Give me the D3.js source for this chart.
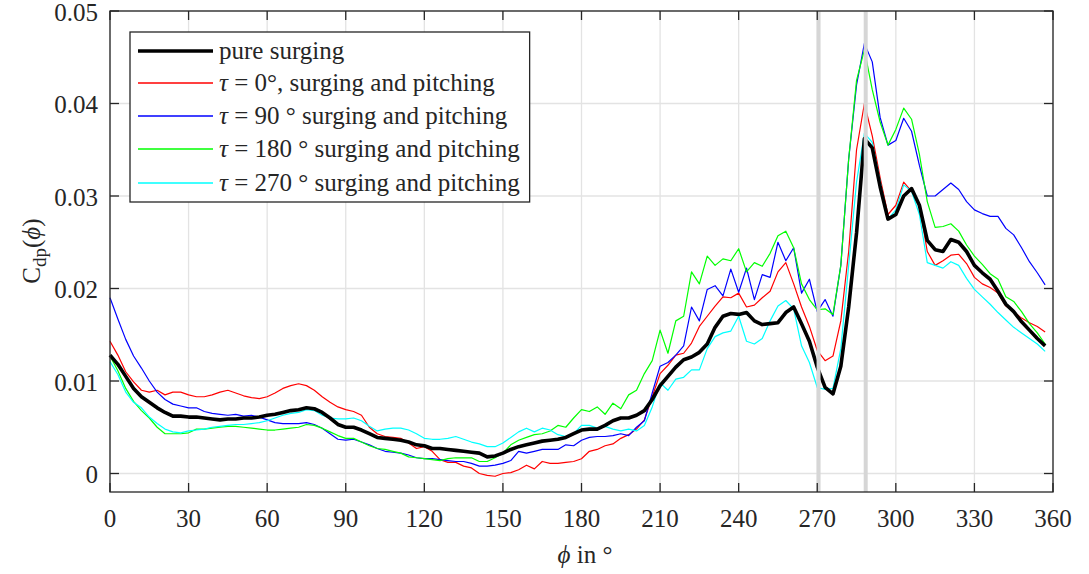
<!DOCTYPE html>
<html><head><meta charset="utf-8">
<script src="https://cdn.jsdelivr.net/npm/d3@7/dist/d3.min.js"></script>
</head><body style="margin:0;background:#fff"><svg id="c" width="1089" height="574" style="display:block"></svg>
<script>
const phi = [0,3,6,9,12,15,18,21,24,27,30,33,36,39,42,45,48,51,54,57,60,63,66,69,72,75,78,81,84,87,90,93,96,99,102,105,108,111,114,117,120,123,126,129,132,135,138,141,144,147,150,153,156,159,162,165,168,171,174,177,180,183,186,189,192,195,198,201,204,207,210,213,216,219,222,225,228,231,234,237,240,243,246,249,252,255,258,261,264,267,270,273,276,279,282,285,288,291,294,297,300,303,306,309,312,315,318,321,324,327,330,333,336,339,342,345,348,351,354,357];
const pureSurging = [0.0128,0.0118,0.0105,0.0092,0.0083,0.0077,0.0071,0.0066,0.0062,0.0062,
0.0061,0.0061,0.0060,0.0059,0.0058,0.0059,0.0059,0.0060,0.0060,0.0061,
0.0063,0.0064,0.0066,0.0068,0.0069,0.0071,0.0070,0.0066,0.0060,0.0053,
0.0050,0.0050,0.0047,0.0043,0.0039,0.0038,0.0037,0.0036,0.0034,0.0031,
0.0030,0.0027,0.0027,0.0026,0.0025,0.0024,0.0023,0.0022,0.0018,0.0019,
0.0022,0.0026,0.0029,0.0031,0.0033,0.0035,0.0036,0.0037,0.0039,0.0043,
0.0047,0.0048,0.0048,0.0052,0.0057,0.0060,0.0060,0.0063,0.0068,0.0080,
0.0095,0.0105,0.0115,0.0123,0.0126,0.0131,0.0140,0.0158,0.0170,0.0173,
0.0172,0.0174,0.0165,0.0161,0.0162,0.0163,0.0174,0.0180,0.0162,0.0143,
0.0115,0.0093,0.0086,0.0116,0.0180,0.0260,0.0362,0.0352,0.0310,0.0275,
0.0280,0.0300,0.0308,0.0290,0.0252,0.0242,0.0240,0.0253,0.0250,0.0240,
0.0225,0.0217,0.0210,0.0197,0.0183,0.0175,0.0164,0.0155,0.0146,0.0138];
const tau0 = [0.0143,0.0128,0.0110,0.0099,0.0090,0.0088,0.0090,0.0085,0.0088,0.0088,
0.0085,0.0083,0.0083,0.0085,0.0088,0.0090,0.0087,0.0084,0.0082,0.0081,
0.0083,0.0087,0.0092,0.0095,0.0097,0.0095,0.0090,0.0083,0.0077,0.0072,
0.0069,0.0067,0.0063,0.0050,0.0043,0.0040,0.0039,0.0038,0.0033,0.0027,
0.0029,0.0024,0.0015,0.0012,0.0012,0.0008,0.0006,0.0000,-0.0002,-0.0003,
0.0000,0.0001,0.0004,0.0009,0.0005,0.0013,0.0011,0.0011,0.0012,0.0013,
0.0016,0.0024,0.0026,0.0030,0.0032,0.0038,0.0042,0.0048,0.0058,0.0083,
0.0108,0.0117,0.0128,0.0130,0.0141,0.0159,0.0170,0.0181,0.0191,0.0190,
0.0195,0.0180,0.0182,0.0190,0.0197,0.0218,0.0228,0.0205,0.0180,0.0159,
0.0133,0.0122,0.0127,0.0165,0.0240,0.0350,0.0400,0.0365,0.0320,0.0280,
0.0290,0.0315,0.0305,0.0290,0.0240,0.0225,0.0230,0.0236,0.0237,0.0227,
0.0212,0.0205,0.0201,0.0195,0.0181,0.0175,0.0168,0.0163,0.0159,0.0153];
const tau90 = [0.0190,0.0167,0.0145,0.0127,0.0114,0.0100,0.0088,0.0080,0.0075,0.0073,
0.0071,0.0071,0.0067,0.0065,0.0064,0.0063,0.0064,0.0062,0.0063,0.0061,
0.0058,0.0055,0.0054,0.0054,0.0054,0.0055,0.0053,0.0049,0.0043,0.0037,
0.0036,0.0037,0.0034,0.0031,0.0027,0.0024,0.0023,0.0022,0.0020,0.0017,
0.0016,0.0016,0.0015,0.0014,0.0013,0.0013,0.0011,0.0008,0.0008,0.0009,
0.0011,0.0014,0.0024,0.0022,0.0024,0.0026,0.0026,0.0026,0.0031,0.0030,
0.0036,0.0039,0.0040,0.0040,0.0041,0.0043,0.0041,0.0050,0.0057,0.0087,
0.0116,0.0120,0.0128,0.0138,0.0180,0.0165,0.0199,0.0203,0.0192,0.0221,
0.0196,0.0222,0.0188,0.0215,0.0212,0.0250,0.0230,0.0244,0.0195,0.0210,
0.0175,0.0188,0.0170,0.0225,0.0340,0.0420,0.0465,0.0445,0.0385,0.0355,
0.0360,0.0384,0.0370,0.0333,0.0300,0.0300,0.0307,0.0314,0.0307,0.0294,
0.0285,0.0281,0.0278,0.0278,0.0265,0.0258,0.0244,0.0229,0.0217,0.0204];
const tau180 = [0.0127,0.0111,0.0092,0.0078,0.0068,0.0060,0.0050,0.0043,0.0043,0.0043,
0.0044,0.0048,0.0048,0.0049,0.0050,0.0051,0.0051,0.0050,0.0049,0.0048,
0.0047,0.0047,0.0048,0.0049,0.0050,0.0053,0.0052,0.0049,0.0045,0.0041,
0.0038,0.0038,0.0034,0.0030,0.0027,0.0026,0.0024,0.0022,0.0018,0.0017,
0.0016,0.0015,0.0014,0.0016,0.0017,0.0017,0.0017,0.0013,0.0013,0.0017,
0.0022,0.0031,0.0036,0.0039,0.0042,0.0043,0.0046,0.0052,0.0050,0.0060,
0.0069,0.0067,0.0072,0.0064,0.0076,0.0070,0.0085,0.0090,0.0108,0.0122,
0.0155,0.0130,0.0165,0.0170,0.0218,0.0205,0.0235,0.0225,0.0232,0.0230,
0.0243,0.0218,0.0228,0.0224,0.0238,0.0257,0.0262,0.0244,0.0205,0.0188,
0.0177,0.0178,0.0172,0.0225,0.0340,0.0425,0.0458,0.0415,0.0380,0.0355,
0.0372,0.0395,0.0383,0.0345,0.0294,0.0266,0.0267,0.0270,0.0262,0.0247,
0.0235,0.0226,0.0216,0.0210,0.0191,0.0186,0.0175,0.0162,0.0152,0.0140];
const tau270 = [0.0121,0.0107,0.0088,0.0077,0.0071,0.0061,0.0054,0.0048,0.0045,0.0044,
0.0046,0.0047,0.0048,0.0050,0.0051,0.0052,0.0053,0.0053,0.0054,0.0055,
0.0057,0.0060,0.0063,0.0065,0.0066,0.0069,0.0068,0.0063,0.0060,0.0059,
0.0059,0.0060,0.0057,0.0051,0.0046,0.0048,0.0049,0.0049,0.0047,0.0043,
0.0038,0.0037,0.0037,0.0038,0.0040,0.0037,0.0034,0.0032,0.0029,0.0029,
0.0033,0.0039,0.0045,0.0049,0.0045,0.0049,0.0047,0.0042,0.0040,0.0043,
0.0052,0.0052,0.0049,0.0051,0.0048,0.0046,0.0048,0.0046,0.0052,0.0072,
0.0098,0.0090,0.0102,0.0104,0.0112,0.0112,0.0135,0.0148,0.0152,0.0154,
0.0170,0.0143,0.0140,0.0146,0.0165,0.0181,0.0187,0.0178,0.0138,0.0120,
0.0093,0.0091,0.0092,0.0135,0.0225,0.0315,0.0368,0.0358,0.0316,0.0275,
0.0285,0.0312,0.0305,0.0280,0.0228,0.0225,0.0222,0.0229,0.0225,0.0211,
0.0199,0.0191,0.0183,0.0174,0.0166,0.0158,0.0152,0.0146,0.0140,0.0132];
const markerAngles = [270.5, 288.5];
const xTicks = [0,30,60,90,120,150,180,210,240,270,300,330,360];
const yTicks = [0,0.01,0.02,0.03,0.04,0.05];
const legendLabels = ["pure surging","τ = 0°, surging and pitching","τ = 90 ° surging and pitching","τ = 180 ° surging and pitching","τ = 270 ° surging and pitching"];

const FAM = "'Liberation Serif', 'Times New Roman', Tinos, serif";
const FS = 25;
const TXT = "#262626";

const svg = d3.select("#c");
const L = 110, R = 1053, T = 11, B = 492;
const x = d3.scaleLinear().domain([0,360]).range([L,R]);
const y = d3.scaleLinear().domain([-0.002,0.05]).range([B,T]);

// grid
const g = svg.append("g");
g.selectAll(".gx").data(xTicks).join("line").attr("x1",d=>x(d)).attr("x2",d=>x(d)).attr("y1",T).attr("y2",B).attr("stroke","#e3e3e3").attr("stroke-width",1.3);
g.selectAll(".gy").data(yTicks).join("line").attr("x1",L).attr("x2",R).attr("y1",d=>y(d)).attr("y2",d=>y(d)).attr("stroke","#e3e3e3").attr("stroke-width",1.3);

const series = [
  {v: tau0, c:"#ff0000", w:1.2},
  {v: tau90, c:"#0000ff", w:1.2},
  {v: tau180, c:"#00ff00", w:1.2},
  {v: tau270, c:"#00ffff", w:1.2},
  {v: pureSurging, c:"#000000", w:3.6}
];
const line = d3.line().x((d,i)=>x(phi[i])).y(d=>y(d));
svg.append("g").selectAll("path").data(series).join("path")
  .attr("d",d=>line(d.v)).attr("fill","none").attr("stroke",d=>d.c).attr("stroke-width",d=>d.w).attr("stroke-linejoin","round");

// marker lines
svg.append("g").selectAll("line").data(markerAngles).join("line")
  .attr("x1",d=>x(d)).attr("x2",d=>x(d)).attr("y1",T).attr("y2",B).attr("stroke","#d6d6d6").attr("stroke-width",4);

// axes box with inward ticks
const ax = svg.append("g").attr("stroke","#262626").attr("stroke-width",1.3);
ax.append("rect").attr("x",L).attr("y",T).attr("width",R-L).attr("height",B-T).attr("fill","none");
const tl = 9;
ax.selectAll(".tb").data(xTicks).join("line").attr("x1",d=>x(d)).attr("x2",d=>x(d)).attr("y1",B).attr("y2",B-tl);
ax.selectAll(".tt").data(xTicks).join("line").attr("x1",d=>x(d)).attr("x2",d=>x(d)).attr("y1",T).attr("y2",T+tl);
ax.selectAll(".tl").data(yTicks).join("line").attr("x1",L).attr("x2",L+tl).attr("y1",d=>y(d)).attr("y2",d=>y(d));
ax.selectAll(".tr").data(yTicks).join("line").attr("x1",R).attr("x2",R-tl).attr("y1",d=>y(d)).attr("y2",d=>y(d));

function txt(sel){
  return sel.attr("font-family",FAM).attr("font-size",FS).attr("fill",TXT)
    .style("font-family",FAM,"important").style("font-size",FS+"px","important");
}

// tick labels
txt(svg.selectAll(".xt").data(xTicks).join("text"))
  .attr("x",d=>x(d)).attr("y",527).attr("text-anchor","middle").text(d=>d);
txt(svg.selectAll(".yt").data(yTicks).join("text"))
  .attr("x",L-12).attr("y",d=>y(d)+9.5).attr("text-anchor","end").text(d=>d===0?"0":d3.format(".2f")(d));

// axis labels
const xl = txt(svg.append("text")).attr("x",585).attr("y",563).attr("text-anchor","middle");
xl.append("tspan").attr("font-style","italic").text("ϕ");
xl.append("tspan").text(" in °");
const yl = txt(svg.append("text")).attr("transform","translate(40,251) rotate(-90)").attr("text-anchor","middle");
yl.append("tspan").text("C");
yl.append("tspan").style("font-size",(FS*0.76)+"px","important").attr("dy",6).text("dp");
yl.append("tspan").attr("dy",-6).text("(");
yl.append("tspan").attr("font-style","italic").text("ϕ");
yl.append("tspan").text(")");

// legend
const box = svg.append("rect").attr("x",130).attr("y",32).attr("height",170).attr("fill","#fff").attr("stroke","#262626").attr("stroke-width",1.3);
const rowY = [51,83,116,149,183];
const legItems = [series[4], series[0], series[1], series[2], series[3]];
let maxW = 0;
legendLabels.forEach((lab,i)=>{
  const s = legItems[i];
  svg.append("line").attr("x1",138).attr("x2",213).attr("y1",rowY[i]).attr("y2",rowY[i]).attr("stroke",s.c).attr("stroke-width",s.w === 1.2 ? 1.4 : s.w);
  const t = txt(svg.append("text")).attr("x",219).attr("y",rowY[i]+7.5);
  if (lab.startsWith("τ")) {
    t.append("tspan").attr("font-style","italic").text("τ");
    t.append("tspan").text(lab.slice(1));
  } else t.text(lab);
  maxW = Math.max(maxW, t.node().getComputedTextLength());
});
box.attr("width", 219 + maxW + 10 - 130);
</script></body></html>
